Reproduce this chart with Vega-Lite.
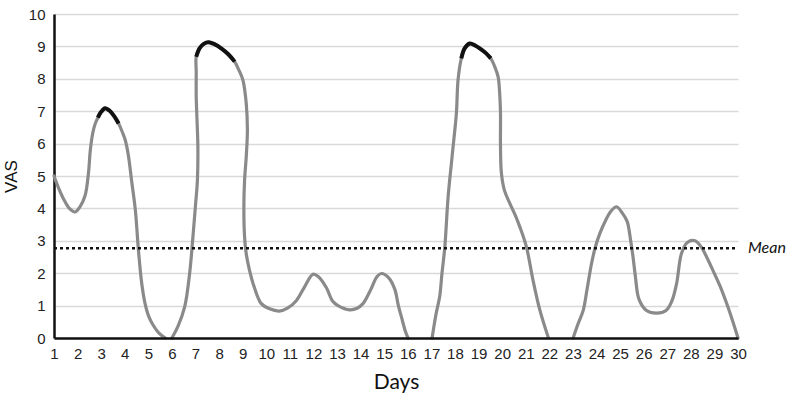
{
  "$schema": "https://vega.github.io/schema/vega-lite/v6.json",
  "width": 684,
  "height": 324,
  "autosize": "none",
  "padding": {"left": 54, "top": 14, "right": 62, "bottom": 67},
  "background": "white",
  "config": {"view": {"stroke": null}},
  "datasets": {
    "curve": [
      {"day": 1.00, "vas": 5.00}, {"day": 1.20, "vas": 4.62}, {"day": 1.40, "vas": 4.30}, {"day": 1.65, "vas": 4.00},
      {"day": 1.90, "vas": 3.89}, {"day": 2.10, "vas": 4.05}, {"day": 2.32, "vas": 4.40}, {"day": 2.46, "vas": 5.08},
      {"day": 2.54, "vas": 5.80}, {"day": 2.65, "vas": 6.35}, {"day": 2.75, "vas": 6.62}, {"day": 2.86, "vas": 6.80},
      {"day": 3.00, "vas": 6.98}, {"day": 3.17, "vas": 7.09}, {"day": 3.35, "vas": 7.02}, {"day": 3.55, "vas": 6.85},
      {"day": 3.74, "vas": 6.62}, {"day": 3.90, "vas": 6.35}, {"day": 4.02, "vas": 6.11}, {"day": 4.15, "vas": 5.65},
      {"day": 4.30, "vas": 4.80}, {"day": 4.45, "vas": 3.94}, {"day": 4.58, "vas": 2.71}, {"day": 4.72, "vas": 1.68},
      {"day": 4.85, "vas": 1.10}, {"day": 5.00, "vas": 0.70}, {"day": 5.20, "vas": 0.40}, {"day": 5.45, "vas": 0.15},
      {"day": 5.72, "vas": 0.00},
      {"day": 5.85, "vas": null},
      {"day": 6.00, "vas": 0.00}, {"day": 6.25, "vas": 0.35}, {"day": 6.54, "vas": 0.96}, {"day": 6.75, "vas": 1.99},
      {"day": 6.89, "vas": 3.12}, {"day": 7.00, "vas": 4.10}, {"day": 7.08, "vas": 4.87}, {"day": 7.10, "vas": 5.90},
      {"day": 7.06, "vas": 6.80}, {"day": 7.03, "vas": 7.45}, {"day": 7.03, "vas": 8.20}, {"day": 7.03, "vas": 8.68},
      {"day": 7.17, "vas": 8.94}, {"day": 7.35, "vas": 9.08}, {"day": 7.55, "vas": 9.13}, {"day": 7.80, "vas": 9.07},
      {"day": 8.09, "vas": 8.94}, {"day": 8.40, "vas": 8.75}, {"day": 8.66, "vas": 8.53}, {"day": 8.85, "vas": 8.25},
      {"day": 9.01, "vas": 7.96}, {"day": 9.15, "vas": 7.24}, {"day": 9.20, "vas": 6.42}, {"day": 9.15, "vas": 5.59},
      {"day": 9.08, "vas": 4.87}, {"day": 9.05, "vas": 4.05}, {"day": 9.08, "vas": 3.12}, {"day": 9.15, "vas": 2.60},
      {"day": 9.29, "vas": 2.09}, {"day": 9.50, "vas": 1.55}, {"day": 9.79, "vas": 1.06}, {"day": 10.14, "vas": 0.90},
      {"day": 10.55, "vas": 0.83}, {"day": 10.90, "vas": 0.92}, {"day": 11.28, "vas": 1.16}, {"day": 11.60, "vas": 1.55},
      {"day": 11.98, "vas": 1.97}, {"day": 12.20, "vas": 1.90}, {"day": 12.55, "vas": 1.55}, {"day": 12.80, "vas": 1.15},
      {"day": 13.04, "vas": 1.00}, {"day": 13.54, "vas": 0.87}, {"day": 13.85, "vas": 0.92}, {"day": 14.10, "vas": 1.06},
      {"day": 14.40, "vas": 1.45}, {"day": 14.70, "vas": 1.90}, {"day": 14.88, "vas": 1.99}, {"day": 15.20, "vas": 1.85},
      {"day": 15.45, "vas": 1.50}, {"day": 15.60, "vas": 1.00}, {"day": 15.73, "vas": 0.65}, {"day": 15.90, "vas": 0.20},
      {"day": 16.01, "vas": 0.00},
      {"day": 16.50, "vas": null},
      {"day": 17.03, "vas": 0.00}, {"day": 17.20, "vas": 0.75}, {"day": 17.35, "vas": 1.27}, {"day": 17.45, "vas": 2.00},
      {"day": 17.57, "vas": 2.81}, {"day": 17.71, "vas": 4.36}, {"day": 17.85, "vas": 5.40}, {"day": 17.92, "vas": 5.90},
      {"day": 18.06, "vas": 6.93}, {"day": 18.13, "vas": 7.96}, {"day": 18.27, "vas": 8.63}, {"day": 18.41, "vas": 8.94},
      {"day": 18.63, "vas": 9.09}, {"day": 18.85, "vas": 9.03}, {"day": 19.05, "vas": 8.94}, {"day": 19.30, "vas": 8.80},
      {"day": 19.52, "vas": 8.63}, {"day": 19.70, "vas": 8.35}, {"day": 19.83, "vas": 8.06}, {"day": 19.90, "vas": 7.50},
      {"day": 19.93, "vas": 6.93}, {"day": 19.93, "vas": 5.90}, {"day": 19.97, "vas": 5.08}, {"day": 20.10, "vas": 4.55},
      {"day": 20.33, "vas": 4.15}, {"day": 20.55, "vas": 3.80}, {"day": 20.75, "vas": 3.43}, {"day": 21.03, "vas": 2.81},
      {"day": 21.31, "vas": 1.78}, {"day": 21.60, "vas": 0.86}, {"day": 21.95, "vas": 0.03},
      {"day": 22.50, "vas": null},
      {"day": 23.01, "vas": 0.00}, {"day": 23.20, "vas": 0.40}, {"day": 23.44, "vas": 0.86}, {"day": 23.60, "vas": 1.50},
      {"day": 23.79, "vas": 2.30}, {"day": 23.95, "vas": 2.80}, {"day": 24.14, "vas": 3.22}, {"day": 24.40, "vas": 3.65},
      {"day": 24.62, "vas": 3.92}, {"day": 24.85, "vas": 4.05}, {"day": 25.10, "vas": 3.85}, {"day": 25.30, "vas": 3.60},
      {"day": 25.45, "vas": 3.00}, {"day": 25.55, "vas": 2.50}, {"day": 25.65, "vas": 1.90}, {"day": 25.80, "vas": 1.20},
      {"day": 26.12, "vas": 0.85}, {"day": 26.55, "vas": 0.77}, {"day": 26.95, "vas": 0.85}, {"day": 27.20, "vas": 1.15},
      {"day": 27.40, "vas": 1.69}, {"day": 27.60, "vas": 2.60}, {"day": 27.85, "vas": 2.95}, {"day": 28.18, "vas": 3.00},
      {"day": 28.45, "vas": 2.80}, {"day": 28.67, "vas": 2.50}, {"day": 28.96, "vas": 2.05}, {"day": 29.24, "vas": 1.60},
      {"day": 29.60, "vas": 0.90}, {"day": 30.00, "vas": 0.00}
    ],
    "peaks": [
      {"seg": "A", "day": 2.86, "vas": 6.80}, {"seg": "A", "day": 3.00, "vas": 6.98}, {"seg": "A", "day": 3.17, "vas": 7.09},
      {"seg": "A", "day": 3.35, "vas": 7.02}, {"seg": "A", "day": 3.55, "vas": 6.85}, {"seg": "A", "day": 3.74, "vas": 6.62},
      {"seg": "B", "day": 7.03, "vas": 8.68}, {"seg": "B", "day": 7.17, "vas": 8.94}, {"seg": "B", "day": 7.35, "vas": 9.08},
      {"seg": "B", "day": 7.55, "vas": 9.13}, {"seg": "B", "day": 7.80, "vas": 9.07}, {"seg": "B", "day": 8.09, "vas": 8.94},
      {"seg": "B", "day": 8.40, "vas": 8.75}, {"seg": "B", "day": 8.66, "vas": 8.53},
      {"seg": "C", "day": 18.27, "vas": 8.63}, {"seg": "C", "day": 18.41, "vas": 8.94}, {"seg": "C", "day": 18.63, "vas": 9.09},
      {"seg": "C", "day": 18.85, "vas": 9.03}, {"seg": "C", "day": 19.05, "vas": 8.94}, {"seg": "C", "day": 19.30, "vas": 8.80},
      {"seg": "C", "day": 19.52, "vas": 8.63}
    ],
    "meanline": [{"day": 1, "vas": 2.77}, {"day": 30, "vas": 2.77}],
    "meanlabel": [{"label": "Mean", "vas": 2.77, "day": 30}]
  },
  "encoding": {
    "x": {
      "field": "day", "type": "quantitative",
      "scale": {"domain": [1, 30], "nice": false, "zero": false},
      "axis": {
        "title": "Days", "values": [1,2,3,4,5,6,7,8,9,10,11,12,13,14,15,16,17,18,19,20,21,22,23,24,25,26,27,28,29,30],
        "grid": false, "ticks": false, "domainColor": "#111", "domainWidth": 2.5, "zindex": 1,
        "labelOverlap": false, "labelBound": false, "labelFlush": false,
        "labelFont": "Liberation Sans", "labelFontSize": 15, "labelColor": "#222", "labelPadding": 8,
        "titleFont": "Lato", "titleFontSize": 21, "titleFontWeight": "normal", "titleColor": "#111", "titlePadding": 10
      }
    },
    "y": {
      "field": "vas", "type": "quantitative",
      "scale": {"domain": [0, 10], "nice": false},
      "axis": {
        "title": "VAS", "values": [0,1,2,3,4,5,6,7,8,9,10], "ticks": false,
        "labelOverlap": false, "labelBound": false, "labelFlush": false,
        "grid": true, "gridColor": "#d9d9d9", "gridWidth": 1.5,
        "domainColor": "#111", "domainWidth": 2.5,
        "labelFont": "Liberation Sans", "labelFontSize": 15, "labelColor": "#222", "labelPadding": 9,
        "titleFont": "Liberation Sans", "titleFontSize": 17, "titleFontWeight": "normal", "titleColor": "#111", "titlePadding": 8
      }
    }
  },
  "layer": [
    {
      "data": {"name": "curve"},
      "mark": {"type": "line", "interpolate": "catmull-rom", "color": "#8a8a8a", "strokeWidth": 3.2, "strokeCap": "round"},
      "encoding": {"order": {"value": null}}
    },
    {
      "data": {"name": "peaks"},
      "mark": {"type": "line", "interpolate": "catmull-rom", "color": "#111", "strokeWidth": 4, "strokeCap": "butt"},
      "encoding": {"detail": {"field": "seg"}, "order": {"value": null}}
    },
    {
      "data": {"name": "meanline"},
      "mark": {"type": "line", "color": "#111", "strokeWidth": 2.5, "strokeDash": [3, 3]},
      "encoding": {}
    },
    {
      "data": {"name": "meanlabel"},
      "mark": {"type": "text", "align": "left", "baseline": "middle", "dx": 10, "font": "Lato", "fontStyle": "italic", "fontSize": 16, "color": "#111"},
      "encoding": {"text": {"field": "label"}}
    }
  ]
}
